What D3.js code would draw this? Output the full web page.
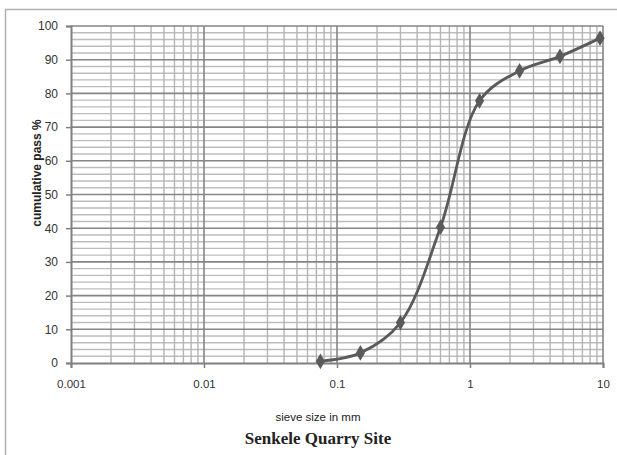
<!DOCTYPE html>
<html><head><meta charset="utf-8">
<script src="https://cdn.jsdelivr.net/npm/d3@7"></script>
<style>body{margin:0;background:#fff}svg{display:block}</style>
</head><body>
<script>
const sieveSizes = [0.075, 0.15, 0.3, 0.6, 1.18, 2.36, 4.75, 9.5];
const cumulativePass = [0.5, 3, 12, 40.3, 77.8, 86.7, 91, 96.4];
const xTickLabels = ["0.001", "0.01", "0.1", "1", "10"];
const yTicks = [0, 10, 20, 30, 40, 50, 60, 70, 80, 90, 100];
const xTitle = "sieve size in mm";
const yTitle = "cumulative pass %";
const chartTitle = "Senkele Quarry Site";

const W = 617, H = 455;
const m = {left: 71, right: 14, top: 26, bottom: 92};
const svg = d3.select("body").append("svg").attr("width", W).attr("height", H);

// outer frame
svg.append("path").attr("d", `M5.5,${H} V9.5 H${W}`).attr("fill","none").attr("stroke","#b0b0b0").attr("stroke-width",1.5);

const x = d3.scaleLog().domain([0.001, 10]).range([m.left, W - m.right]);
const y = d3.scaleLinear().domain([0, 100]).range([H - m.bottom, m.top]);

const g = svg.append("g");
// minor horizontal grid
const minorY = d3.range(2, 100, 2).filter(v => v % 10 !== 0);
g.selectAll(".hmin").data(minorY).join("line")
  .attr("x1", x(0.001)).attr("x2", x(10))
  .attr("y1", d => y(d)).attr("y2", d => y(d))
  .attr("stroke", "#bdbdbd").attr("stroke-width", 1.4);
// minor vertical grid
const minorX = [];
[0.001, 0.01, 0.1, 1].forEach(dec => { for (let k = 2; k <= 9; k++) minorX.push(dec * k); });
g.selectAll(".vmin").data(minorX).join("line")
  .attr("x1", d => x(d)).attr("x2", d => x(d))
  .attr("y1", y(0)).attr("y2", y(100))
  .attr("stroke", "#b4b4b4").attr("stroke-width", 1.4);
// major grid
g.selectAll(".hmaj").data(yTicks.filter(v => v > 0)).join("line")
  .attr("x1", x(0.001)).attr("x2", x(10))
  .attr("y1", d => y(d)).attr("y2", d => y(d))
  .attr("stroke", "#858585").attr("stroke-width", 1.6);
const xMajor = xTickLabels.map(Number);
g.selectAll(".vmaj").data(xMajor.slice(1)).join("line")
  .attr("x1", d => x(d)).attr("x2", d => x(d))
  .attr("y1", y(0)).attr("y2", y(100))
  .attr("stroke", "#858585").attr("stroke-width", 1.6);

// axes
const xAxis = d3.axisBottom(x).tickValues(xMajor).tickFormat((d, i) => xTickLabels[i]).tickSize(5).tickPadding(12);
const gx = svg.append("g").attr("transform", `translate(0,${y(0)})`).call(xAxis);
gx.select(".domain").attr("stroke", "#808080").attr("stroke-width", 2);
gx.selectAll(".tick line").attr("stroke", "#808080").attr("stroke-width", 1.5);
gx.selectAll("text").attr("font-family", "Liberation Sans, Arial, sans-serif").attr("font-size", 11.5).attr("fill", "#333");

const yAxis = d3.axisLeft(y).tickValues(yTicks).tickSize(5).tickPadding(8);
const gy = svg.append("g").attr("transform", `translate(${m.left},0)`).call(yAxis);
gy.select(".domain").attr("stroke", "#808080").attr("stroke-width", 2);
gy.selectAll(".tick line").attr("stroke", "#808080").attr("stroke-width", 1.5);
gy.selectAll("text").attr("font-family", "Liberation Sans, Arial, sans-serif").attr("font-size", 12).attr("fill", "#333");

// curve
const data = sieveSizes.map((s, i) => ({s, p: cumulativePass[i]}));
const line = d3.line().x(d => x(d.s)).y(d => y(d.p)).curve(d3.curveCatmullRom.alpha(0.5));
svg.append("path").datum(data).attr("d", line)
  .attr("fill", "none").attr("stroke", "#5a5a5a").attr("stroke-width", 2.8);
svg.selectAll(".mk").data(data).join("path")
  .attr("transform", d => `translate(${x(d.s)},${y(d.p)})`)
  .attr("d", d3.symbol(d3.symbolDiamond, 72)())
  .attr("fill", "#5a5a5a");

// titles
svg.append("text").attr("x", 318).attr("y", 421).attr("text-anchor", "middle")
  .attr("font-family", "Liberation Sans, Arial, sans-serif").attr("font-size", 11.5).attr("fill", "#222").text(xTitle);
svg.append("text").attr("transform", "translate(41,173) rotate(-90)").attr("text-anchor", "middle")
  .attr("font-family", "Liberation Sans, Arial, sans-serif").attr("font-size", 12).attr("font-weight", "bold").attr("fill", "#222").text(yTitle);
svg.append("text").attr("x", 318).attr("y", 444).attr("text-anchor", "middle")
  .attr("font-family", "Liberation Serif, Times New Roman, serif").attr("font-size", 17).attr("font-weight", "bold").attr("fill", "#222").text(chartTitle);
</script>
</body></html>
